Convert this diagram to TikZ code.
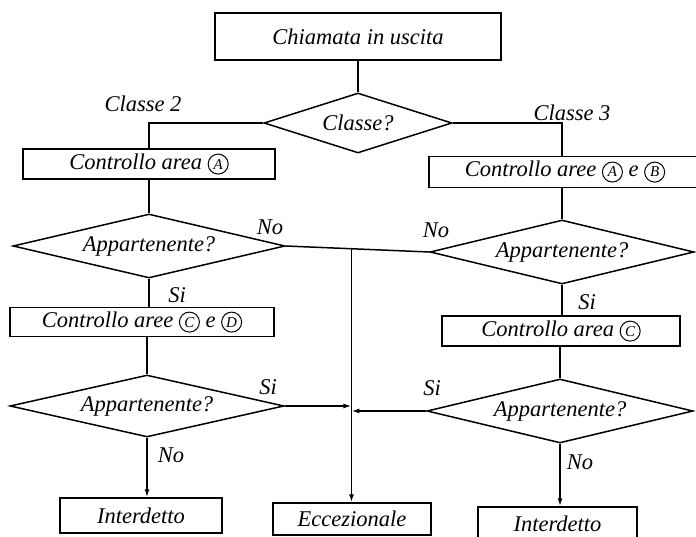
\documentclass[tikz,border=0pt]{standalone}
\usepackage{fontspec}
\setmainfont{Liberation Serif}
\usetikzlibrary{shapes.geometric,arrows.meta,calc}
\newcommand\cletter[1]{\tikz[baseline=(cc.base)]\node[draw,circle,inner sep=0pt,line width=1pt,minimum size=20pt,font=\fontsize{15}{15}\selectfont\itshape](cc){#1};}
\begin{document}
\begin{tikzpicture}[x=1pt,y=-1pt,
  every node/.style={font=\fontsize{22.5}{26}\selectfont\itshape},
  line width=1.5pt,
  box/.style={draw,rectangle,inner sep=0pt},
  dia/.style={draw,diamond,aspect=4,inner sep=0pt},
  lbl/.style={inner sep=0pt},
  arr/.style={-{Latex[length=8pt,width=5pt]}}]
\useasboundingbox (0,0) rectangle (696,537);
% boxes
\node[box,minimum width=286pt,minimum height=47pt] (top) at (358,36.5) {Chiamata in uscita};
\node[dia,minimum width=188pt,minimum height=60pt] (cls) at (358,123) {Classe?};
\node[box,minimum width=252pt,minimum height=30pt] (bA) at (149,164) {Controllo area \cletter{A}};
\node[box,minimum width=272pt,minimum height=31pt] (bAB) at (565,172) {Controllo aree \cletter{A} e \cletter{B}};
\node[dia,minimum width=272pt,minimum height=64pt] (d1) at (149,246) {Appartenente?};
\node[dia,minimum width=264pt,minimum height=64pt] (d2) at (562,252) {Appartenente?};
\node[box,minimum width=264pt,minimum height=29pt] (bCD) at (142,322) {Controllo aree \cletter{C} e \cletter{D}};
\node[box,minimum width=238pt,minimum height=30pt] (bC) at (561,331) {Controllo area \cletter{C}};
\node[dia,minimum width=274pt,minimum height=62pt] (d3) at (147,406) {Appartenente?};
\node[dia,minimum width=266pt,minimum height=64pt] (d4) at (560,411) {Appartenente?};
\node[box,minimum width=162pt,minimum height=35pt] (iL) at (141,515.5) {Interdetto};
\node[box,minimum width=158pt,minimum height=32pt] (ecc) at (352,519) {Eccezionale};
\node[box,minimum width=159pt,minimum height=34pt] (iR) at (557.5,524) {Interdetto};
% labels
\node[lbl] (l2) at (143,104) {Classe 2};
\node[lbl] (l3) at (572,113) {Classe 3};
\node[lbl] (n1) at (270,227) {No};
\node[lbl] (n2) at (436,230) {No};
\node[lbl] (s1) at (177,295) {Si};
\node[lbl] (s2) at (587,302) {Si};
\node[lbl] (s3) at (268,387) {Si};
\node[lbl] (s4) at (432,388) {Si};
\node[lbl] (n3) at (171,455) {No};
\node[lbl] (n4) at (580,462) {No};
% connectors
\draw (top) -- (cls);
\draw (cls.west) -| (bA.north);
\draw (cls.east) -| (d2.north |- bAB.north);
\draw (bA.south) -- (d1.north);
\draw (d2.north |- bAB.south) -- (d2.north);
\draw (d1.east) -- (d2.west);
\coordinate (J1) at ($(d1.east)!0.458!(d2.west)$);
\draw[arr] (J1) -- (J1 |- ecc.north);
\draw (d1.south) -- (d1.south |- bCD.north);
\draw (d3.north |- bCD.south) -- (d3.north);
\draw (d2.south) -- (d2.south |- bC.north);
\draw (d4.north |- bC.south) -- (d4.north);
\draw[arr] (d3.east) -- (d3.east -| J1);
\draw[arr] (d4.west) -- (d4.west -| J1);
\draw[arr] (d3.south) -- (d3.south |- iL.north);
\draw[arr] (d4.south) -- (d4.south |- iR.north);
\end{tikzpicture}
\end{document}
